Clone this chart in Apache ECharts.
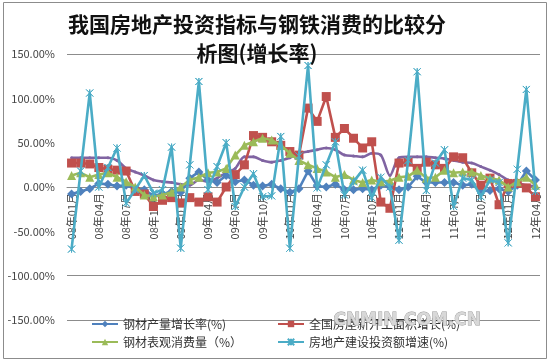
<!DOCTYPE html>
<html><head><meta charset="utf-8">
<script src="https://cdn.jsdelivr.net/npm/echarts@6/dist/echarts.min.js"></script>
<style>html,body{margin:0;padding:0;background:#fff}#c{width:547px;height:360px}</style>
</head><body><div id="c"></div>
<script>
const categories = (function(){
  const out=[];
  for(let y=8;y<=12;y++){for(let m=1;m<=12;m++){ if(y===12&&m>4)break; out.push(String(y).padStart(2,'0')+'年'+String(m).padStart(2,'0')+'月');}}
  return out;
})();
const yTicks = [-150,-100,-50,0,50,100,150];
const seriesNames = ['钢材产量增长率(%)','全国房屋新开工面积增长(%)','钢材表观消费量（%）','房地产建设投资额增速(%)','房地产开发投资增长(%)'];
const steelOutput = [-8,-5,-2,4,3,1,2,-2,-3,-10,-8,-5,-6,10,17,8,5,13,6,8,2,1,3,-2,-6,-2,18,1,0,3,-3,-3,-2,-3,2,0,-3,0,12,5,5,5,5,2,3,-5,-4,-2,-5,2,18,8];
const newStarts = [27,27,26,22,20,19,18,-5,-8,-22,-15,-12,-18,-12,-17,-11,-17,0,14,25,58,56,51,47,40,36,89,74,102,56,66,55,44,51,-17,-24,27,28,21,28,25,21,34,33,16,2,10,-20,4,4,-1,-11];
const steelConsumption = [13,16,11,14,16,11,6,0,-9,-11,-9,-6,0,8,11,16,17,21,36,47,51,55,53,47,38,30,25,21,17,11,14,8,5,8,6,7,11,12,19,10,11,19,16,17,17,13,10,8,0,6,11,2];
const investSpeed = [-70,18,106,0,22,44,-18,-3,13,-7,-3,45,-69,25,119,-3,23,50,-22,0,15,-11,-10,57,-69,35,137,-1,25,51,-9,6,19,-12,11,0,-60,30,130,-4,27,42,-22,10,8,-11,8,5,-63,20,110,-5];
const investCum = [33,33,33,33,33,30,21,17,13,8,6,5,3,2,8,6,10,16,21,34,34,30,28,30,33,38,40,42,44,42,36,35,34,38,36,13,33,34,34,34,33,32,30,28,27,23,19,14,8,5,2,1];

const chart = echarts.init(document.getElementById('c'), null, {renderer:'canvas'});
const lbl = {fontFamily:'"Noto Sans CJK SC","Noto Sans",sans-serif'};
const star = 'path://M0,0L10,10L5,5L10,0L0,10L5,5L5,0L5,10L5,5Z';
function mk(name,data,color,symbol,size,z,extra){
  return Object.assign({name,type:'line',data,symbol,symbolSize:size,z,showSymbol:true,showAllSymbol:true,
    lineStyle:{color,width:2.6},itemStyle:{color,borderColor:color,borderWidth:symbol===star?1:0},
    emphasis:{disabled:true},animation:false},extra||{});
}
const GRID = {left:67,right:7,top:54,bottom:40};
const plotH = 360-GRID.top-GRID.bottom;
const zeroOffset = -plotH*150/300; // move category axis up to the 0% line
chart.setOption({
  animation:false,
  backgroundColor:'#fff',
  grid:Object.assign({containLabel:false,outerBoundsMode:'none'},GRID),
  xAxis:{type:'category',data:categories,boundaryGap:true,offset:zeroOffset,
    axisLine:{onZero:false,lineStyle:{color:'#8c8c8c',width:1}},
    axisTick:{show:false},
    axisLabel:Object.assign({rotate:90,interval:2,fontSize:11,color:'#444',margin:6,hideOverlap:false},lbl),
    splitLine:{show:false}, z:0},
  yAxis:{type:'value',min:-150,max:150,interval:50,
    axisLine:{show:false},axisTick:{show:false},
    axisLabel:Object.assign({fontSize:11,color:'#444',margin:12,formatter:v=>v.toFixed(2)+'%'},lbl),
    splitLine:{show:true,lineStyle:{color:['#8c8c8c','#8c8c8c','rgba(0,0,0,0)','rgba(0,0,0,0)','rgba(0,0,0,0)','rgba(0,0,0,0)','#8c8c8c'],width:1}}},
  legend:[
    {data:[seriesNames[0],seriesNames[2]],orient:'vertical',left:86,top:313,itemGap:6,itemWidth:26,itemHeight:8,
     textStyle:Object.assign({fontSize:12,color:'#333'},lbl)},
    {data:[seriesNames[1],seriesNames[3]],orient:'vertical',left:272,top:313,itemGap:6,itemWidth:26,itemHeight:8,
     textStyle:Object.assign({fontSize:12,color:'#333'},lbl)}
  ],
  series:[
    mk(seriesNames[4],investCum,'#8064A2','circle',3,1,{smooth:0.3}),
    mk(seriesNames[0],steelOutput,'#4F81BD','diamond',9,2),
    mk(seriesNames[1],newStarts,'#C0504D','rect',9,3),
    mk(seriesNames[2],steelConsumption,'#9BBB59','triangle',9,4),
    mk(seriesNames[3],investSpeed,'#4BACC6',star,7,5)
  ],
  graphic:[
    {type:'rect',left:1,top:0,shape:{x:0,y:0,width:543,height:356},style:{fill:'none',stroke:'#8c8c8c',lineWidth:1},silent:true,z:-1},
    {type:'text',left:68,top:10,z:100,style:{text:'我国房地产投资指标与钢铁消费的比较分\n析图(增长率)',textAlign:'center',
      font:'bold 21px "Noto Sans CJK SC", sans-serif',lineHeight:29,fill:'#111'}},
    {type:'text',left:333,top:312,z:100,style:{text:'CNMIN.COM.CN',font:'bold 17px "DejaVu Sans", sans-serif',fill:'#d8d8d8',stroke:'#999',lineWidth:0.8}}
  ]
});
</script></body></html>
